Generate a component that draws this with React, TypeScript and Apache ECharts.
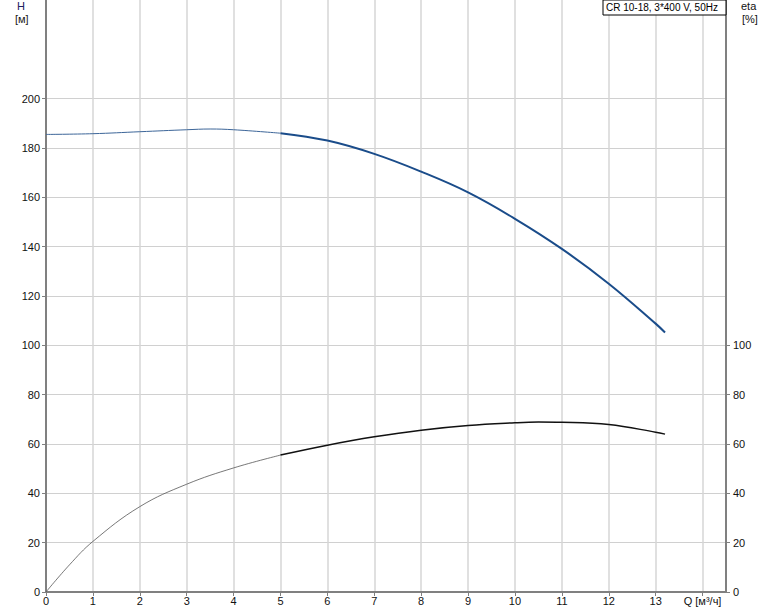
import React, { useEffect, useRef } from "react";
import * as echarts from "echarts";

const qH1 = [0, 1, 2, 3, 3.5, 4, 5];
const h1 = [185.5, 185.8, 186.6, 187.4, 187.7, 187.4, 186.0];
const qH2 = [5, 6, 7, 8, 9, 10, 11, 12, 13, 13.2];
const h2 = [186.0, 183.0, 177.6, 170.4, 162.0, 151.3, 139.1, 125.0, 108.8, 105.2];

const qE1 = [0, 0.5, 1, 2, 3, 4, 5];
const e1 = [0, 11, 20.5, 34.6, 43.7, 50.3, 55.5];
const qE2 = [5, 6, 7, 8, 9, 10, 10.5, 11, 12, 13, 13.2];
const e2 = [55.5, 59.5, 62.9, 65.6, 67.5, 68.6, 68.9, 68.8, 67.9, 64.8, 64.0];

const xTicks = [0, 1, 2, 3, 4, 5, 6, 7, 8, 9, 10, 11, 12, 13, 14];
const yLeftTicks = [0, 20, 40, 60, 80, 100, 120, 140, 160, 180, 200];
const yRightTicks = [0, 20, 40, 60, 80, 100];
const qLabel = "Q [м³/ч]";
const title = "CR 10-18, 3*400 V, 50Hz";

const zip = (xs: number[], ys: number[]) => xs.map((x, i) => [x, ys[i]]);

const FONT = "Liberation Sans";

export default function App() {
  const ref = useRef<HTMLDivElement>(null);
  useEffect(() => {
    if (!ref.current) return;
    const chart = echarts.init(ref.current, undefined, { renderer: "svg" });
    const axisLine = { show: true, lineStyle: { color: "#808080", width: 2 } };
    const labelStyle = { color: "#111", fontSize: 11, fontFamily: FONT };
    chart.setOption({
      animation: false,
      backgroundColor: "#fff",
      grid: { left: 46, right: 48, top: 0, bottom: 19, containLabel: false },
      xAxis: {
        type: "value",
        min: 0,
        max: 14.5,
        interval: 1,
        axisLine,
        axisTick: { show: true, length: 4, lineStyle: { color: "#808080" }, customValues: xTicks },
        axisLabel: {
          ...labelStyle,
          margin: 3,
          customValues: xTicks,
          formatter: (v: number) => (v === 14 ? qLabel : String(v)),
        },
        splitLine: { show: true, lineStyle: { color: "#d6d6d6", width: 1.5 } },
      },
      yAxis: [
        {
          type: "value",
          min: 0,
          max: 240,
          interval: 20,
          position: "left",
          axisLine,
          axisTick: { show: true, length: 4, lineStyle: { color: "#808080" }, customValues: yLeftTicks },
          axisLabel: {
            ...labelStyle,
            margin: 6,
            customValues: yLeftTicks,
          },
          splitLine: { show: true, lineStyle: { color: "#d0d0d0", width: 1.2 } },
        },
        {
          type: "value",
          min: 0,
          max: 240,
          interval: 20,
          position: "right",
          axisLine,
          axisTick: { show: true, length: 4, lineStyle: { color: "#808080" }, customValues: yRightTicks },
          axisLabel: {
            ...labelStyle,
            margin: 7,
            customValues: yRightTicks,
          },
          splitLine: { show: false },
        },
      ],
      series: [
        {
          type: "line",
          data: zip(qH1, h1),
          smooth: 0.4,
          showSymbol: false,
          lineStyle: { color: "#3d6699", width: 1 },
        },
        {
          type: "line",
          data: zip(qH2, h2),
          smooth: 0.4,
          showSymbol: false,
          lineStyle: { color: "#1a4c8a", width: 2 },
        },
        {
          type: "line",
          data: zip(qE1, e1),
          smooth: 0.4,
          showSymbol: false,
          lineStyle: { color: "#555", width: 0.8 },
        },
        {
          type: "line",
          data: zip(qE2, e2),
          smooth: 0.4,
          showSymbol: false,
          lineStyle: { color: "#111", width: 1.5 },
        },
      ],
      graphic: [
        { type: "text", left: 17, top: 0, style: { text: "H", fill: "#202060", font: `11px ${FONT}` } },
        { type: "text", left: 15, top: 13, style: { text: "[м]", fill: "#202020", font: `11px ${FONT}` } },
        { type: "text", left: 741, top: 0, style: { text: "eta", fill: "#111", font: `11px ${FONT}` } },
        { type: "text", left: 742, top: 13, style: { text: "[%]", fill: "#111", font: `11px ${FONT}` } },
        {
          type: "rect",
          shape: { x: 603, y: 0, width: 123, height: 15 },
          style: { fill: "#fff", stroke: "#000", lineWidth: 1 },
          z: 100,
        },
        {
          type: "text",
          left: 606,
          top: 2,
          z: 101,
          style: { text: title, fill: "#000", font: `10px ${FONT}` },
        },
      ],
    });
    return () => chart.dispose();
  }, []);
  return (
    <div
      ref={ref}
      style={{ position: "fixed", left: 0, top: 0, width: 774, height: 611, background: "#fff" }}
    />
  );
}
